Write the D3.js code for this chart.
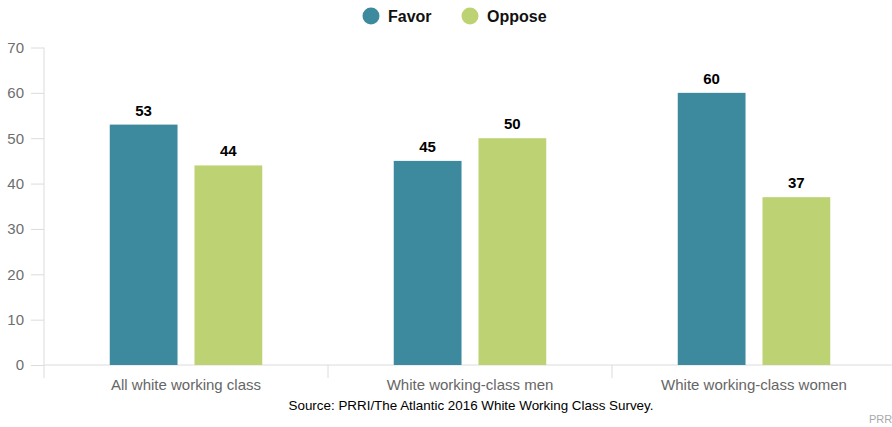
<!DOCTYPE html>
<html>
<head>
<meta charset="utf-8">
<script src="https://cdn.jsdelivr.net/npm/d3@7"></script>
<style>
  body { margin: 0; background: #fff; }
  text { font-family: "Liberation Sans", Arial, sans-serif; }
</style>
</head>
<body>
<div id="chart"></div>
<script>
// data
var categories = ["All white working class", "White working-class men", "White working-class women"]
var seriesNames = ["Favor", "Oppose"]
var favor = [53, 45, 60]
var oppose = [44, 50, 37]
var yTicks = [0, 10, 20, 30, 40, 50, 60, 70]
var colors = ["#3d8a9e", "#bdd373"]

var width = 892
var height = 427

var svg = d3.select("#chart")
  .append("svg")
    .attr("width", width)
    .attr("height", height)

var x = d3.scaleBand()
  .domain(categories)
  .range([44, 896])

// 68px bars, 17px gap, ~66px outer margin inside each category
var xInner = d3.scaleBand()
  .domain(seriesNames)
  .range([0, x.bandwidth()])
  .paddingInner(0.2)
  .paddingOuter(0.776)

var y = d3.scaleLinear()
  .domain([0, 70])
  .range([365, 47.5])

// y axis
var yAxis = svg.append("g")
  .attr("transform", "translate(44,0)")
  .call(d3.axisLeft(y).tickValues(yTicks).tickSize(13).tickPadding(7))
yAxis.select(".domain").remove()
yAxis.selectAll("line").attr("stroke", "#dcdcdc")
yAxis.selectAll("text").attr("fill", "#6e6e6e").style("font-size", "15px")
svg.append("line")
  .attr("x1", 44).attr("x2", 44)
  .attr("y1", y(70)).attr("y2", 378)
  .attr("stroke", "#dcdcdc")

// x axis
svg.append("line")
  .attr("x1", 44).attr("x2", width)
  .attr("y1", y(0)).attr("y2", y(0))
  .attr("stroke", "#dcdcdc")
svg.selectAll(".cat-tick")
  .data(categories.slice(1))
  .enter()
  .append("line")
    .attr("x1", function(d) { return x(d) })
    .attr("x2", function(d) { return x(d) })
    .attr("y1", y(0)).attr("y2", 378)
    .attr("stroke", "#dcdcdc")
svg.selectAll(".cat-label")
  .data(categories)
  .enter()
  .append("text")
    .attr("x", function(d) { return x(d) + x.bandwidth() / 2 })
    .attr("y", 390)
    .attr("text-anchor", "middle")
    .attr("fill", "#666")
    .style("font-size", "15px")
    .text(function(d) { return d })

// bars
var rows = categories.map(function(c, i) {
  return { cat: c, values: [{ s: "Favor", v: favor[i] }, { s: "Oppose", v: oppose[i] }] }
})

var groups = svg.selectAll(".grp")
  .data(rows)
  .enter()
  .append("g")
    .attr("transform", function(d) { return "translate(" + x(d.cat) + ",0)" })

groups.selectAll("rect")
  .data(function(d) { return d.values })
  .enter()
  .append("rect")
    .attr("x", function(d) { return xInner(d.s) })
    .attr("width", xInner.bandwidth())
    .attr("y", function(d) { return y(d.v) })
    .attr("height", function(d) { return y(0) - y(d.v) })
    .attr("fill", function(d, i) { return colors[i] })

groups.selectAll(".val")
  .data(function(d) { return d.values })
  .enter()
  .append("text")
    .attr("x", function(d) { return xInner(d.s) + xInner.bandwidth() / 2 })
    .attr("y", function(d) { return y(d.v) - 9 })
    .attr("text-anchor", "middle")
    .style("font-size", "15px")
    .style("font-weight", "bold")
    .attr("fill", "#000")
    .text(function(d) { return d.v })

// legend
var legendX = [371, 470]
var legend = svg.selectAll(".leg")
  .data(seriesNames)
  .enter()
  .append("g")
    .attr("transform", function(d, i) { return "translate(" + legendX[i] + ",16)" })
legend.append("circle")
  .attr("r", 8.5)
  .attr("fill", function(d, i) { return colors[i] })
legend.append("text")
  .attr("x", 17)
  .attr("y", 6)
  .style("font-size", "16px")
  .style("font-weight", "bold")
  .attr("fill", "#111")
  .text(function(d) { return d })

// source
svg.append("text")
  .attr("x", 471)
  .attr("y", 410)
  .attr("text-anchor", "middle")
  .style("font-size", "13.4px")
  .attr("fill", "#000")
  .text("Source: PRRI/The Atlantic 2016 White Working Class Survey.")

svg.append("text")
  .attr("x", 869)
  .attr("y", 423)
  .style("font-size", "11px")
  .attr("fill", "#aaa")
  .text("PRRI")
</script>
</body>
</html>
